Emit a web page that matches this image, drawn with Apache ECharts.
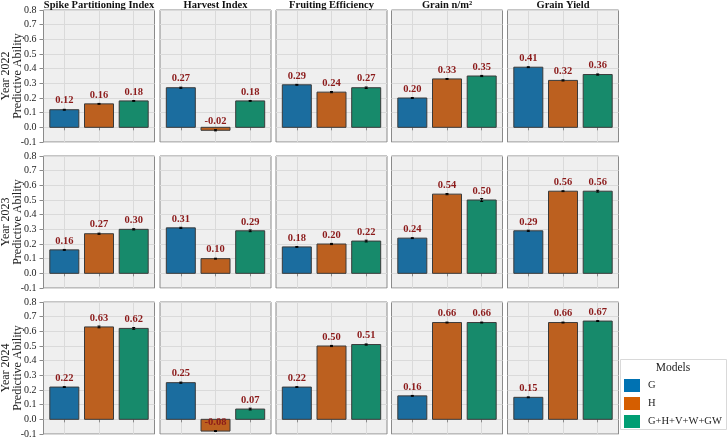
<!DOCTYPE html>
<html>
<head>
<meta charset="utf-8">
<script src="https://cdn.jsdelivr.net/npm/echarts@6/dist/echarts.min.js"></script>
<style>
html, body { margin: 0; padding: 0; background: #fff; }
#main { width: 727px; height: 437px; }
</style>
</head>
<body>
<div id="main"></div>
<script>
// data
var categories = ['G', 'H', 'G+H+V+W+GW'];
var traits = ['Spike Partitioning Index', 'Harvest Index', 'Fruiting Efficiency', 'Grain n/m²', 'Grain Yield'];
var years = ['Year 2022', 'Year 2023', 'Year 2024'];

// predictive ability, one row per trait: [G, H, G+H+V+W+GW]
var pa2022 = [[0.12, 0.16, 0.18], [0.27, -0.02, 0.18], [0.29, 0.24, 0.27], [0.20, 0.33, 0.35], [0.41, 0.32, 0.36]];
var pa2023 = [[0.16, 0.27, 0.30], [0.31, 0.10, 0.29], [0.18, 0.20, 0.22], [0.24, 0.54, 0.50], [0.29, 0.56, 0.56]];
var pa2024 = [[0.22, 0.63, 0.62], [0.25, -0.08, 0.07], [0.22, 0.50, 0.51], [0.16, 0.66, 0.66], [0.15, 0.66, 0.67]];

// standard errors (tiny)
var se2022 = [[0.003, 0.003, 0.003], [0.004, 0.004, 0.003], [0.003, 0.004, 0.005], [0.003, 0.003, 0.004], [0.003, 0.004, 0.004]];
var se2023 = [[0.003, 0.004, 0.004], [0.004, 0.003, 0.006], [0.003, 0.004, 0.006], [0.003, 0.004, 0.010], [0.004, 0.003, 0.006]];
var se2024 = [[0.003, 0.006, 0.006], [0.004, 0.003, 0.006], [0.003, 0.004, 0.004], [0.003, 0.003, 0.003], [0.003, 0.003, 0.003]];

var yMin = -0.1, yMax = 0.8, yStep = 0.1;

var paByYear = [pa2022, pa2023, pa2024];
var seByYear = [se2022, se2023, se2024];

var barColors = ['#1B6D9F', '#BC601F', '#178A6B'];
var legendColors = ['#0072B2', '#D55E00', '#009E73'];
var serif = '"Liberation Serif", "Times New Roman", serif';

var colLeft = [43.5, 160, 276, 391.5, 507.5];
var rowTop = [10, 156, 302];
var panelW = 111, panelH = 132;

// x axis slots: 17 points, the three models sit at 3, 8, 13 (like a 0.4..3.6 range)
var slotIdx = [3, 8, 13];
var slots = [];
for (var s = 0; s < 17; s++) slots.push('');
slotIdx.forEach(function (k, i) { slots[k] = categories[i]; });
function isSlot(i) { return slotIdx.indexOf(i) >= 0; }

var myChart = echarts.init(document.getElementById('main'));

var grids = [], xAxes = [], yAxes = [], series = [], graphics = [];

// bar + error bar + value label
function renderBar(params, api) {
    var x = api.value(0), v = api.value(1), e = api.value(2);
    var base = api.coord([x, 0]);
    var top = api.coord([x, v]);
    var lo = api.coord([x, v - e]);
    var hi = api.coord([x, v + e]);
    var half = 14.5, cap = 1.5;
    return {
        type: 'group',
        children: [
            {
                type: 'rect',
                shape: { x: base[0] - half, y: Math.min(base[1], top[1]), width: half * 2, height: Math.abs(base[1] - top[1]) },
                style: { fill: api.visual('color'), stroke: '#3A3A3A', lineWidth: 1 }
            },
            { type: 'line', shape: { x1: lo[0], y1: lo[1], x2: hi[0], y2: hi[1] }, style: { stroke: '#000', lineWidth: 1 } },
            { type: 'line', shape: { x1: lo[0] - cap, y1: lo[1], x2: lo[0] + cap, y2: lo[1] }, style: { stroke: '#000', lineWidth: 1 } },
            { type: 'line', shape: { x1: hi[0] - cap, y1: hi[1], x2: hi[0] + cap, y2: hi[1] }, style: { stroke: '#000', lineWidth: 1 } },
            {
                type: 'text',
                style: {
                    text: v.toFixed(2), x: top[0], y: top[1] - 9,
                    align: 'center', verticalAlign: 'middle',
                    fill: '#8B1A1A', font: 'bold 10.5px ' + serif
                }
            }
        ]
    };
}

for (var r = 0; r < 3; r++) {
    for (var c = 0; c < 5; c++) {
        var gi = r * 5 + c;
        grids.push({
            left: colLeft[c], top: rowTop[r], width: panelW, height: panelH,
            containLabel: false, outerBoundsMode: 'none',
            show: true, backgroundColor: '#EFEFEF', borderColor: '#8A8A8A', borderWidth: 1
        });
        xAxes.push({
            type: 'category', gridIndex: gi, data: slots, boundaryGap: false,
            axisLine: { show: false },
            axisLabel: { show: false },
            axisTick: { show: true, length: 3, lineStyle: { color: '#8A8A8A' }, interval: isSlot },
            splitLine: { show: true, lineStyle: { color: '#DADADA', width: 1 }, interval: isSlot }
        });
        yAxes.push({
            type: 'value', gridIndex: gi, min: yMin, max: yMax, interval: yStep,
            axisLine: { show: false },
            axisTick: { show: c === 0, length: 4, lineStyle: { color: '#8A8A8A' } },
            axisLabel: {
                show: c === 0, margin: 7, fontFamily: serif, fontSize: 10, color: '#222',
                formatter: function (v) { return (Math.abs(v) < 1e-9 ? 0 : v).toFixed(1); }
            },
            splitLine: { show: true, lineStyle: { color: '#DADADA', width: 1 } },
            name: c === 0 ? years[r] + '\nPredictive Ability' : '',
            nameLocation: 'middle', nameGap: 20, nameRotate: 90, nameMoveOverlap: false,
            nameTextStyle: { fontFamily: serif, fontSize: 12, lineHeight: 12, color: '#222' }
        });

        var vals = paByYear[r][c];
        var errs = seByYear[r][c];
        for (var m = 0; m < 3; m++) {
            series.push({
                type: 'custom', name: categories[m],
                xAxisIndex: gi, yAxisIndex: gi,
                itemStyle: { color: barColors[m] },
                data: [[slotIdx[m], vals[m], errs[m]]],
                renderItem: renderBar, silent: true
            });
        }

        if (r === 0) {
            graphics.push({
                type: 'text', x: colLeft[c] + panelW / 2, y: 5,
                style: { text: traits[c], align: 'center', verticalAlign: 'middle',
                    fill: '#111', font: 'bold 10.5px ' + serif }
            });
        }
    }
}

// legend box and title
graphics.push({
    type: 'rect', shape: { x: 620.5, y: 359.5, width: 106, height: 70 },
    style: { fill: '#fff', stroke: '#D9D9D9', lineWidth: 1 }, z: -1
});
graphics.push({
    type: 'text', x: 673, y: 368,
    style: { text: 'Models', align: 'center', verticalAlign: 'middle', fill: '#222', font: '11.5px ' + serif }
});

var option = {
    animation: false,
    grid: grids,
    xAxis: xAxes,
    yAxis: yAxes,
    legend: {
        orient: 'vertical', left: 619, top: 374, itemGap: 5, itemWidth: 16, itemHeight: 13,
        icon: 'rect', selectedMode: false,
        data: categories.map(function (n, i) { return { name: n, itemStyle: { color: legendColors[i], borderWidth: 0 } }; }),
        textStyle: { fontFamily: serif, fontSize: 10.5, color: '#222', padding: [0, 0, 0, 3] }
    },
    graphic: graphics,
    series: series
};
myChart.setOption(option);
</script>
</body>
</html>
